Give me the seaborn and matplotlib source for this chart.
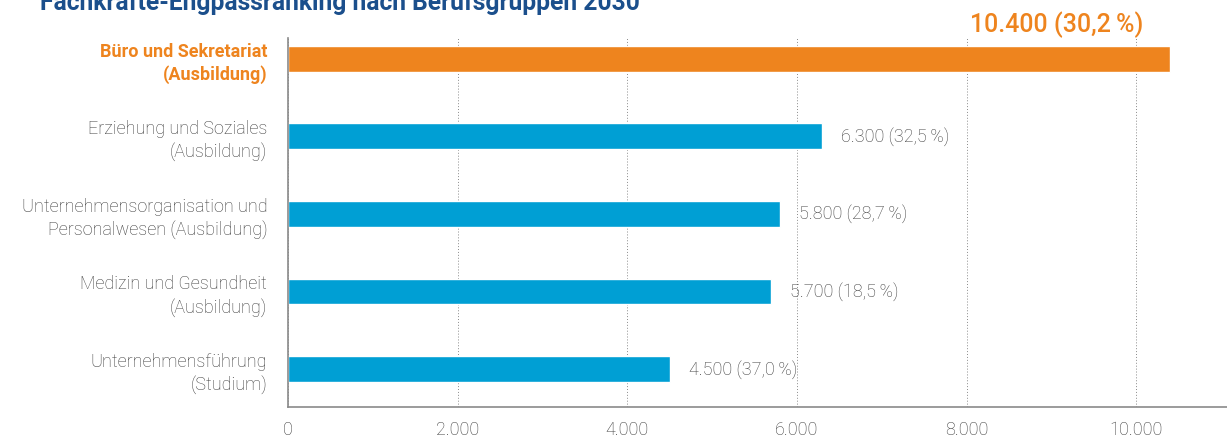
import matplotlib
matplotlib.use("Agg")
import matplotlib.pyplot as plt
import matplotlib.ticker as mticker
import seaborn as sns
import pandas as pd

# Data
berufsgruppen = [
    "Büro und Sekretariat\n(Ausbildung)",
    "Erziehung und Soziales\n(Ausbildung)",
    "Unternehmensorganisation und\nPersonalwesen (Ausbildung)",
    "Medizin und Gesundheit\n(Ausbildung)",
    "Unternehmensführung\n(Studium)",
]
engpass = [10400, 6300, 5800, 5700, 4500]
anteil = ["30,2", "32,5", "28,7", "18,5", "37,0"]
hervorgehoben = [True, False, False, False, False]

ORANGE = "#EE841E"
BLUE = "#009FD4"
GREY_TXT = "#3c3c3c"
TITLE_BLUE = "#1b4f8c"

df = pd.DataFrame({
    "gruppe": berufsgruppen,
    "wert": engpass,
    "farbe": ["top" if h else "rest" for h in hervorgehoben],
})

sns.set_style("white")
plt.rcParams["font.family"] = ["Roboto", "DejaVu Sans"]

fig = plt.figure(figsize=(12.27, 4.41), dpi=100)
ax = fig.add_axes([288 / 1227, 1 - 407 / 441, 1 - 288 / 1227, (407 - 38) / 441])

sns.barplot(data=df, y="gruppe", x="wert", hue="farbe",
            palette={"top": ORANGE, "rest": BLUE}, orient="h",
            width=0.335, legend=False, ax=ax, saturation=1)

ax.set_xlim(0, 11070)
ax.set_ylim(4.49, -0.27)
ax.set_xticks([0, 2000, 4000, 6000, 8000, 10000])
ax.xaxis.set_major_formatter(mticker.FuncFormatter(lambda v, p: f"{int(v):,}".replace(",", ".")))
ax.set_xlabel("")
ax.set_ylabel("")

# dotted vertical grid
ax.grid(axis="x", linestyle=(0, (1, 2)), color="#8a8a8a", linewidth=0.7)
ax.set_axisbelow(True)

for s in ["top", "right"]:
    ax.spines[s].set_visible(False)
for s in ["left", "bottom"]:
    ax.spines[s].set_color("#8a8a8a")
    ax.spines[s].set_linewidth(1.2)

ax.tick_params(axis="x", length=0, pad=10, labelsize=13, labelcolor=GREY_TXT)
ax.tick_params(axis="y", length=0, pad=15, labelsize=13, labelcolor=GREY_TXT)
for lbl in ax.get_xticklabels():
    lbl.set_fontweight("light")
for lbl, h in zip(ax.get_yticklabels(), hervorgehoben):
    lbl.set_linespacing(1.3)
    lbl.set_horizontalalignment("right")
    if h:
        lbl.set_color(ORANGE)
        lbl.set_fontweight("bold")
    else:
        lbl.set_fontweight("light")

# value labels
for i, (v, a, h) in enumerate(zip(engpass, anteil, hervorgehoben)):
    txt = f"{v:,}".replace(",", ".") + f" ({a}\u2009%)"
    if h:
        ax.annotate(txt, xy=(v, i), xytext=(-27, 27), textcoords="offset pixels",
                    ha="right", va="baseline", color=ORANGE, fontsize=18,
                    fontweight="medium")
    else:
        ax.annotate(txt, xy=(v, i), xytext=(19, 0), textcoords="offset pixels",
                    ha="left", va="center", color=GREY_TXT, fontsize=13,
                    fontweight="light")

fig.text(40 / 1227, 1 - 10 / 441, "Fachkräfte-Engpassranking nach Berufsgruppen 2030",
         ha="left", va="baseline", fontsize=17.7, fontweight="bold", color=TITLE_BLUE)

fig.savefig("out.png", dpi=100)
